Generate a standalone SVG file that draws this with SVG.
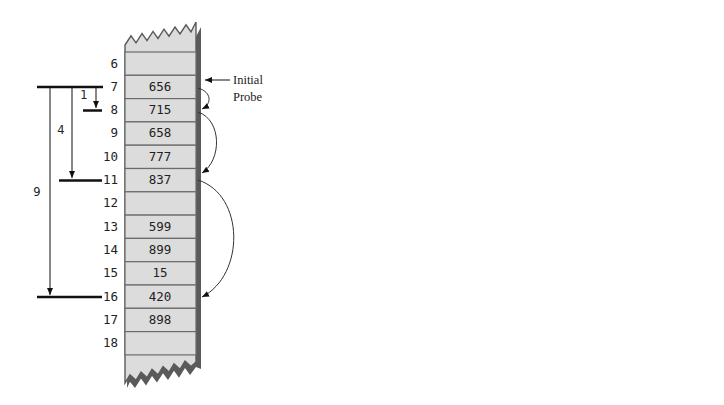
<svg xmlns="http://www.w3.org/2000/svg" width="724" height="405" viewBox="0 0 724 405">
<style>
.cell{fill:#dcdcdc;stroke:#6a6a6a;stroke-width:1.2}
.idx{font-family:"DejaVu Sans Mono","Liberation Mono",monospace;font-size:12.5px;fill:#222;text-anchor:end}
.val{font-family:"DejaVu Sans Mono","Liberation Mono",monospace;font-size:12.5px;fill:#222;text-anchor:middle}
.dim{font-family:"DejaVu Sans","Liberation Sans",sans-serif;font-size:11.5px;fill:#222;text-anchor:middle}
.lbl{font-family:"Liberation Serif","Times New Roman",serif;font-size:12.5px;fill:#222}
.bar{stroke:#111;stroke-width:2.5;fill:none}
.thin{stroke:#111;stroke-width:1;fill:none}
.curve{stroke:#333;stroke-width:1;fill:none}
</style>
<defs>
<marker id="ah" markerWidth="8" markerHeight="8" refX="7" refY="4" orient="auto" markerUnits="userSpaceOnUse">
<path d="M0,1 L7,4 L0,7 Z" fill="#111"/>
</marker>
</defs>
<g id="column">
<path d="M130,49 L136,40.8 L141,47.8 L147,38.6 L152,45.6 L158,36.4 L163,43.4 L169,34.2 L174,41.2 L180,32 L185,39 L191,29.8 L196,36.8 L201,27 L201,369 L196,367 L190,375 L185,368 L179,377.8 L174,370.8 L168,380 L163,373.3 L157,382.5 L152,376 L146,385.5 L141,378.5 L135,388 L130,381.8 L127,388 Z" fill="#5a5a5a"/>
<path d="M125,45 L131,35.8 L136,42.8 L142,33.6 L147,40.6 L153,31.4 L158,38.4 L164,29.2 L169,36.2 L175,27 L180,34 L186,24.8 L191,31.8 L196,22 L196,362 L191,366.5 L185,361 L180,369.3 L174,363.8 L169,372 L163,366.5 L158,374.8 L152,369.3 L147,377.5 L141,372 L136,380.3 L130,374.8 L125,383 Z" fill="#dcdcdc" stroke="#5a5a5a" stroke-width="1.4" stroke-linejoin="miter"/>
</g>
<g id="slot6"><rect class="cell" x="125" y="52" width="71" height="23.3"/><text class="idx" x="118" y="68">6</text></g>
<g id="slot7"><rect class="cell" x="125" y="75.3" width="71" height="23.3"/><text class="idx" x="118" y="91">7</text><text class="val" x="160" y="91">656</text></g>
<g id="slot8"><rect class="cell" x="125" y="98.6" width="71" height="23.3"/><text class="idx" x="118" y="114">8</text><text class="val" x="160" y="114">715</text></g>
<g id="slot9"><rect class="cell" x="125" y="121.9" width="71" height="23.3"/><text class="idx" x="118" y="137">9</text><text class="val" x="160" y="137">658</text></g>
<g id="slot10"><rect class="cell" x="125" y="145.2" width="71" height="23.3"/><text class="idx" x="118" y="161">10</text><text class="val" x="160" y="161">777</text></g>
<g id="slot11"><rect class="cell" x="125" y="168.5" width="71" height="23.3"/><text class="idx" x="118" y="184">11</text><text class="val" x="160" y="184">837</text></g>
<g id="slot12"><rect class="cell" x="125" y="191.8" width="71" height="23.3"/><text class="idx" x="118" y="207">12</text></g>
<g id="slot13"><rect class="cell" x="125" y="215.1" width="71" height="23.3"/><text class="idx" x="118" y="231">13</text><text class="val" x="160" y="231">599</text></g>
<g id="slot14"><rect class="cell" x="125" y="238.4" width="71" height="23.3"/><text class="idx" x="118" y="254">14</text><text class="val" x="160" y="254">899</text></g>
<g id="slot15"><rect class="cell" x="125" y="261.7" width="71" height="23.3"/><text class="idx" x="118" y="277">15</text><text class="val" x="160" y="277">15</text></g>
<g id="slot16"><rect class="cell" x="125" y="285" width="71" height="23.3"/><text class="idx" x="118" y="301">16</text><text class="val" x="160" y="301">420</text></g>
<g id="slot17"><rect class="cell" x="125" y="308.3" width="71" height="23.3"/><text class="idx" x="118" y="324">17</text><text class="val" x="160" y="324">898</text></g>
<g id="slot18"><rect class="cell" x="125" y="331.6" width="71" height="23.3"/><text class="idx" x="118" y="347">18</text></g>
<g id="initial-probe"><text class="lbl" x="233" y="84">Initial</text><text class="lbl" x="233" y="101">Probe</text></g>
<g id="dimensions">
<line class="bar" x1="37" y1="87" x2="103" y2="87"/>
<line class="bar" x1="83" y1="110.5" x2="102" y2="110.5"/>
<line class="bar" x1="59" y1="180.5" x2="102" y2="180.5"/>
<line class="bar" x1="37" y1="297" x2="102" y2="297"/>
<text class="dim" x="84" y="99">1</text>
<text class="dim" x="61" y="134">4</text>
<text class="dim" x="37" y="196">9</text>
</g>
<g id="connectors">
<line class="thin" x1="96" y1="87" x2="96" y2="108" marker-end="url(#ah)"/>
<line class="thin" x1="72" y1="87" x2="72" y2="178" marker-end="url(#ah)"/>
<line class="thin" x1="50" y1="87" x2="50" y2="295" marker-end="url(#ah)"/>
<line class="thin" x1="230" y1="80" x2="205" y2="80" marker-end="url(#ah)"/>
<path class="curve" d="M198,88 C212,92 212,104 202,109" marker-end="url(#ah)"/>
<path class="curve" d="M198,112 C222,120 222,160 202,173" marker-end="url(#ah)"/>
<path class="curve" d="M198,180 C245,195 245,275 202,297" marker-end="url(#ah)"/>
</g>
</svg>
